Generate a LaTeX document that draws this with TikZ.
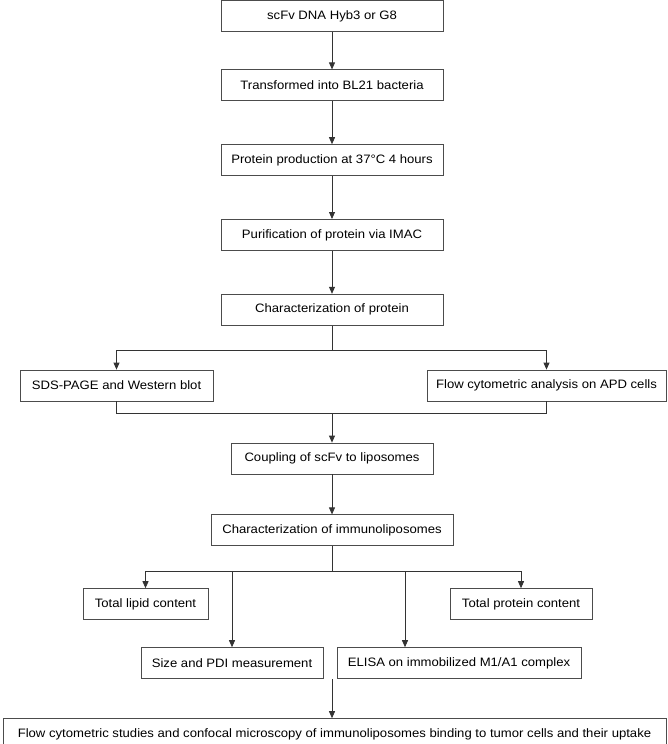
\documentclass[tikz,border=0pt]{standalone}
\usepackage{fontspec}
\setmainfont[FakeStretch=1.075]{Liberation Sans}
\usetikzlibrary{arrows.meta, positioning, calc}

\begin{document}
\begin{tikzpicture}[
    x=1pt, y=1pt,
    >={Triangle[length=7pt,width=6pt]},
    font=\fontsize{12.2}{14}\selectfont,
    % Define styles for boxes and connectors
    stepbox/.style={rectangle, draw=black!70, line width=0.8pt, text centered, minimum height=31pt, inner sep=2pt},
    link/.style={draw=black!80, line width=0.8pt},
]
\useasboundingbox (0,0) rectangle (667,-744);

% -------------------------
% Protein production column
% -------------------------
\node (dna) [stepbox, minimum width=222pt] at (332,-16) {scFv DNA Hyb3 or G8};
\node (trans) [stepbox, minimum width=222pt, below=37.5pt of dna] {Transformed into BL21 bacteria};
\node (prod) [stepbox, minimum width=222pt, below=43pt of trans] {Protein production at 37°C 4 hours};
\node (purif) [stepbox, minimum width=222pt, below=43pt of prod] {Purification of protein via IMAC};
\node (charprot) [stepbox, minimum width=222pt, below=43pt of purif] {Characterization of protein};

% Protein checks
\node (sds) [stepbox, minimum width=193pt, below=44pt of charprot, xshift=-215.5pt] {SDS-PAGE and Western blot};
\node (flow) [stepbox, minimum width=239pt, below=44pt of charprot, xshift=214.5pt] {Flow cytometric analysis on APD cells};

% -------------------------
% Immunoliposome column
% -------------------------
\node (coupling) [stepbox, minimum width=202pt, below=117pt of charprot] {Coupling of scFv to liposomes};
\node (immuno) [stepbox, minimum width=242pt, below=40pt of coupling] {Characterization of immunoliposomes};

% Immunoliposome checks
\node (lipid) [stepbox, minimum width=125pt, below=42pt of immuno, xshift=-186.5pt] {Total lipid content};
\node (protein) [stepbox, minimum width=142pt, below=42pt of immuno, xshift=189pt] {Total protein content};
\node (size) [stepbox, minimum width=182pt, below=101pt of immuno, xshift=-100pt] {Size and PDI measurement};
\node (elisa) [stepbox, minimum width=244pt, below=101pt of immuno, xshift=127pt] {ELISA on immobilized M1/A1 complex};

\node (final) [stepbox, minimum width=663pt, below=172pt of immuno, xshift=2.5pt] {Flow cytometric studies and confocal microscopy of immunoliposomes binding to tumor cells and their uptake};

% -------------------------
% Arrow Connections
% -------------------------
\draw[link, ->] (dna) -- (trans);
\draw[link, ->] (trans) -- (prod);
\draw[link, ->] (prod) -- (purif);
\draw[link, ->] (purif) -- (charprot);

% Split to protein checks
\coordinate (split1) at ($(charprot.south)+(0,-25)$);
\draw[link] (charprot.south) -- (split1);
\draw[link, ->] (split1) -| (sds.north);
\draw[link, ->] (split1) -| (flow.north);

% Merge to coupling
\coordinate (merge1) at ($(charprot.south |- sds.south)+(0,-12)$);
\draw[link] (sds.south) |- (merge1) -| (flow.south);
\draw[link, ->] (merge1) -- (coupling.north);

\draw[link, ->] (coupling) -- (immuno);

% Split to immunoliposome checks
\coordinate (split2) at ($(immuno.south)+(0,-25)$);
\draw[link] (immuno.south) -- (split2);
\draw[link, ->] (split2) -| (lipid.north);
\draw[link, ->] (split2) -| (protein.north);
\draw[link, ->] (size.north |- split2) -- (size.north);
\coordinate (elisatap) at ($(split2)+(73,0)$);
\draw[link, ->] (elisatap) -- (elisatap |- elisa.north);

% Down to binding studies
\coordinate (merge2) at (split2 |- size.south);
\draw[link, ->] (merge2) -- (merge2 |- final.north);

\end{tikzpicture}
\end{document}
